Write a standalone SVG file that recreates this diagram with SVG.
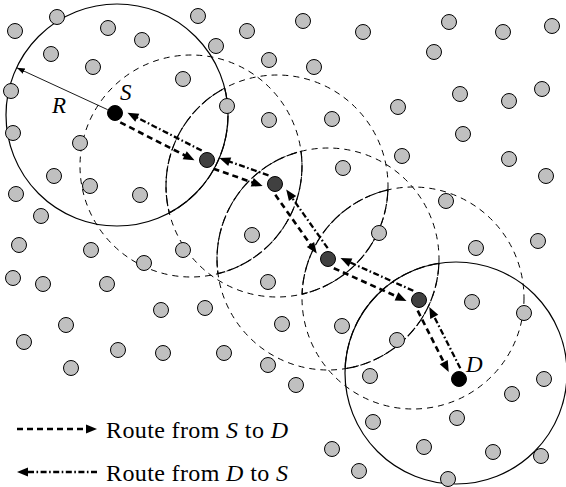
<svg xmlns="http://www.w3.org/2000/svg" width="566" height="487" viewBox="0 0 566 487">
<style>
.ring{fill:none;stroke:#000;stroke-width:1.2}
.dring{fill:none;stroke:#000;stroke-width:1;stroke-dasharray:6 5}
.lens{fill:none;stroke:#000;stroke-width:1.2;stroke-dasharray:11 3}
.fwd{fill:none;stroke:#000;stroke-width:2.6;stroke-dasharray:6 4;marker-end:url(#ah)}
.bwd{fill:none;stroke:#000;stroke-width:2.3;stroke-dasharray:6 2.5 1.6 2.5;marker-end:url(#ah)}
.rad{fill:none;stroke:#000;stroke-width:0.9;marker-end:url(#ahs)}
.gn{fill:#c0c0c0;stroke:#000;stroke-width:1}
.rn{fill:#404040;stroke:#000;stroke-width:1}
.en{fill:#000;stroke:#000;stroke-width:1}
.lbl{font-family:'Liberation Serif','Times New Roman',serif;font-style:italic;font-size:23px;fill:#000}
.leg{font-family:'Liberation Serif','Times New Roman',serif;font-size:24px;fill:#000}
.it{font-style:italic}
</style>
<defs>
<marker id="ah" markerUnits="userSpaceOnUse" markerWidth="14" markerHeight="12" viewBox="-1 -6 14 12" refX="1" refY="0" orient="auto">
<path d="M0,-4.5 L11,0 L0,4.5 Z" fill="#000"/>
</marker>
<marker id="ahs" markerUnits="userSpaceOnUse" markerWidth="10" markerHeight="8" viewBox="0 -4 10 8" refX="8" refY="0" orient="auto">
<path d="M0,-3 L8,0 L0,3 Z" fill="#000"/>
</marker>
</defs>

<g id="ranges">
<circle class="ring" cx="117" cy="115" r="111"/>
<circle class="dring" cx="191" cy="166" r="111"/>
<circle class="dring" cx="277" cy="186" r="111"/>
<circle class="dring" cx="328" cy="259" r="111"/>
<circle class="dring" cx="413" cy="298" r="111"/>
<circle class="ring" cx="456" cy="373" r="111"/>
<path class="lens" d="M224.7,88.1 A111,111 0 0 1 169.3,212.9 A111,111 0 0 1 224.7,88.1 Z"/>
<path class="lens" d="M301.0,151.3 A111,111 0 0 1 218.0,273.7 A111,111 0 0 1 301.0,151.3 Z"/>
<path class="lens" d="M387.9,189.9 A111,111 0 0 1 302.1,294.1 A111,111 0 0 1 387.9,189.9 Z"/>
<path class="lens" d="M438.9,263.3 A111,111 0 0 1 345.1,368.7 A111,111 0 0 1 438.9,263.3 Z"/>
</g>

<g id="connectors">
<line class="rad" x1="107.7" y1="109.7" x2="16.8" y2="67.8"/>
<line class="fwd" x1="120.3" y1="122.4" x2="185.6" y2="155.8"/>
<line class="bwd" x1="201.7" y1="150.6" x2="136.4" y2="117.2"/>
<line class="fwd" x1="213.5" y1="168.7" x2="253.2" y2="182.7"/>
<line class="bwd" x1="268.5" y1="175.3" x2="228.8" y2="161.3"/>
<line class="fwd" x1="275.3" y1="194.8" x2="311.0" y2="245.3"/>
<line class="bwd" x1="327.7" y1="248.2" x2="292.0" y2="197.7"/>
<line class="fwd" x1="333.8" y1="268.2" x2="397.4" y2="296.8"/>
<line class="bwd" x1="413.3" y1="290.8" x2="349.6" y2="262.2"/>
<line class="fwd" x1="417.7" y1="310.7" x2="444.2" y2="363.0"/>
<line class="bwd" x1="460.3" y1="368.3" x2="433.8" y2="316.0"/>
<line class="fwd" x1="17" y1="429" x2="87" y2="429"/>
<line class="bwd" x1="97" y1="472" x2="27" y2="472"/>
</g>

<g id="others">
<g id="g1"><circle class="gn" cx="57" cy="17" r="7.5"/></g>
<g id="g2"><circle class="gn" cx="15" cy="31" r="7.5"/></g>
<g id="g3"><circle class="gn" cx="108" cy="28" r="7.5"/></g>
<g id="g4"><circle class="gn" cx="142" cy="40" r="7.5"/></g>
<g id="g5"><circle class="gn" cx="51" cy="54" r="7.5"/></g>
<g id="g6"><circle class="gn" cx="93" cy="67" r="7.5"/></g>
<g id="g7"><circle class="gn" cx="183" cy="79" r="7.5"/></g>
<g id="g8"><circle class="gn" cx="11" cy="91" r="7.5"/></g>
<g id="g9"><circle class="gn" cx="13" cy="133" r="7.5"/></g>
<g id="g10"><circle class="gn" cx="80" cy="143" r="7.5"/></g>
<g id="g11"><circle class="gn" cx="198" cy="16" r="7.5"/></g>
<g id="g12"><circle class="gn" cx="247" cy="31" r="7.5"/></g>
<g id="g13"><circle class="gn" cx="303" cy="21" r="7.5"/></g>
<g id="g14"><circle class="gn" cx="363" cy="32" r="7.5"/></g>
<g id="g15"><circle class="gn" cx="216" cy="46" r="7.5"/></g>
<g id="g16"><circle class="gn" cx="269" cy="60" r="7.5"/></g>
<g id="g17"><circle class="gn" cx="314" cy="67" r="7.5"/></g>
<g id="g18"><circle class="gn" cx="227" cy="106" r="7.5"/></g>
<g id="g19"><circle class="gn" cx="269" cy="120" r="7.5"/></g>
<g id="g20"><circle class="gn" cx="332" cy="119" r="7.5"/></g>
<g id="g21"><circle class="gn" cx="449" cy="22" r="7.5"/></g>
<g id="g22"><circle class="gn" cx="503" cy="32" r="7.5"/></g>
<g id="g23"><circle class="gn" cx="552" cy="26" r="7.5"/></g>
<g id="g24"><circle class="gn" cx="434" cy="52" r="7.5"/></g>
<g id="g25"><circle class="gn" cx="460" cy="94" r="7.5"/></g>
<g id="g26"><circle class="gn" cx="509" cy="101" r="7.5"/></g>
<g id="g27"><circle class="gn" cx="542" cy="89" r="7.5"/></g>
<g id="g28"><circle class="gn" cx="398" cy="107" r="7.5"/></g>
<g id="g29"><circle class="gn" cx="463" cy="134" r="7.5"/></g>
<g id="g30"><circle class="gn" cx="402" cy="156" r="7.5"/></g>
<g id="g31"><circle class="gn" cx="509" cy="159" r="7.5"/></g>
<g id="g32"><circle class="gn" cx="54" cy="176" r="7.5"/></g>
<g id="g33"><circle class="gn" cx="16" cy="194" r="7.5"/></g>
<g id="g34"><circle class="gn" cx="90" cy="186" r="7.5"/></g>
<g id="g35"><circle class="gn" cx="140" cy="195" r="7.5"/></g>
<g id="g36"><circle class="gn" cx="41" cy="216" r="7.5"/></g>
<g id="g37"><circle class="gn" cx="19" cy="245" r="7.5"/></g>
<g id="g38"><circle class="gn" cx="91" cy="250" r="7.5"/></g>
<g id="g39"><circle class="gn" cx="183" cy="250" r="7.5"/></g>
<g id="g40"><circle class="gn" cx="144" cy="263" r="7.5"/></g>
<g id="g41"><circle class="gn" cx="13" cy="278" r="7.5"/></g>
<g id="g42"><circle class="gn" cx="43" cy="284" r="7.5"/></g>
<g id="g43"><circle class="gn" cx="107" cy="284" r="7.5"/></g>
<g id="g44"><circle class="gn" cx="161" cy="310" r="7.5"/></g>
<g id="g45"><circle class="gn" cx="343" cy="168" r="7.5"/></g>
<g id="g46"><circle class="gn" cx="252" cy="235" r="7.5"/></g>
<g id="g47"><circle class="gn" cx="268" cy="282" r="7.5"/></g>
<g id="g48"><circle class="gn" cx="205" cy="308" r="7.5"/></g>
<g id="g49"><circle class="gn" cx="546" cy="176" r="7.5"/></g>
<g id="g50"><circle class="gn" cx="446" cy="201" r="7.5"/></g>
<g id="g51"><circle class="gn" cx="379" cy="233" r="7.5"/></g>
<g id="g52"><circle class="gn" cx="476" cy="248" r="7.5"/></g>
<g id="g53"><circle class="gn" cx="538" cy="241" r="7.5"/></g>
<g id="g54"><circle class="gn" cx="472" cy="302" r="7.5"/></g>
<g id="g55"><circle class="gn" cx="524" cy="313" r="7.5"/></g>
<g id="g56"><circle class="gn" cx="66" cy="325" r="7.5"/></g>
<g id="g57"><circle class="gn" cx="24" cy="342" r="7.5"/></g>
<g id="g58"><circle class="gn" cx="118" cy="350" r="7.5"/></g>
<g id="g59"><circle class="gn" cx="163" cy="353" r="7.5"/></g>
<g id="g60"><circle class="gn" cx="71" cy="368" r="7.5"/></g>
<g id="g61"><circle class="gn" cx="282" cy="324" r="7.5"/></g>
<g id="g62"><circle class="gn" cx="342" cy="326" r="7.5"/></g>
<g id="g63"><circle class="gn" cx="224" cy="353" r="7.5"/></g>
<g id="g64"><circle class="gn" cx="268" cy="365" r="7.5"/></g>
<g id="g65"><circle class="gn" cx="296" cy="385" r="7.5"/></g>
<g id="g66"><circle class="gn" cx="370" cy="376" r="7.5"/></g>
<g id="g67"><circle class="gn" cx="373" cy="422" r="7.5"/></g>
<g id="g68"><circle class="gn" cx="332" cy="449" r="7.5"/></g>
<g id="g69"><circle class="gn" cx="359" cy="471" r="7.5"/></g>
<g id="g70"><circle class="gn" cx="397" cy="340" r="7.5"/></g>
<g id="g71"><circle class="gn" cx="544" cy="379" r="7.5"/></g>
<g id="g72"><circle class="gn" cx="512" cy="394" r="7.5"/></g>
<g id="g73"><circle class="gn" cx="457" cy="418" r="7.5"/></g>
<g id="g74"><circle class="gn" cx="424" cy="447" r="7.5"/></g>
<g id="g75"><circle class="gn" cx="493" cy="452" r="7.5"/></g>
<g id="g76"><circle class="gn" cx="541" cy="456" r="7.5"/></g>
<g id="g77"><circle class="gn" cx="448" cy="479" r="7.5"/></g>
</g>

<g id="relay1"><circle class="rn" cx="207" cy="160" r="7.5"/></g>
<g id="relay2"><circle class="rn" cx="275" cy="184" r="7.5"/></g>
<g id="relay3"><circle class="rn" cx="328" cy="259" r="7.5"/></g>
<g id="relay4"><circle class="rn" cx="419" cy="300" r="7.5"/></g>
<g id="source"><circle class="en" cx="115" cy="113" r="7.5"/><text class="lbl" x="120" y="100" font-family="Liberation Serif, serif">S</text></g>
<g id="dest"><circle class="en" cx="459" cy="379" r="7.5"/><text class="lbl" x="466" y="372" font-family="Liberation Serif, serif">D</text></g>
<g id="radius-label"><text class="lbl" x="52" y="113" font-family="Liberation Serif, serif">R</text></g>

<g id="legend">
<text class="leg" x="106" y="438" textLength="182" lengthAdjust="spacing" font-family="Liberation Serif, serif">Route from <tspan class="it">S</tspan> to <tspan class="it">D</tspan></text>
<text class="leg" x="106" y="481" textLength="182" lengthAdjust="spacing" font-family="Liberation Serif, serif">Route from <tspan class="it">D</tspan> to <tspan class="it">S</tspan></text>
</g>
</svg>
